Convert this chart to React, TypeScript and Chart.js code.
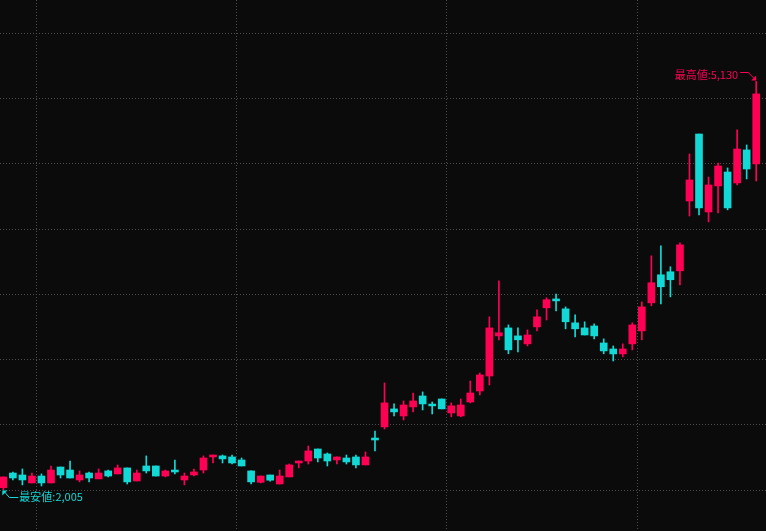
import React, { useEffect, useRef } from "react";
import { Chart, registerables } from "chart.js";

Chart.register(...registerables);

// Daily OHLC values (index = trading day)
const opens = [
  2020, 2132, 2117, 2056, 2109, 2056, 2178, 2155, 2079, 2132,
  2087, 2148, 2125, 2171, 2071, 2186, 2186, 2109, 2155, 2079,
  2117, 2155, 2255, 2263, 2255, 2232, 2148, 2061, 2117, 2048,
  2102, 2209, 2224, 2316, 2278, 2232, 2247, 2255, 2194, 2400,
  2485, 2623, 2569, 2638, 2722, 2660, 2699, 2592, 2569, 2676,
  2760, 2875, 3182, 3243, 3182, 3121, 3251, 3397, 3465, 3389,
  3282, 3243, 3258, 3128, 3082, 3044, 3121, 3220, 3435, 3650,
  3673, 3680, 4215, 4728, 4131, 4330, 4437, 4353, 4606, 4499,
];
const highs = [
  2102, 2140, 2163, 2132, 2125, 2186, 2178, 2224, 2148, 2140,
  2163, 2155, 2194, 2171, 2155, 2263, 2186, 2155, 2232, 2132,
  2163, 2263, 2270, 2270, 2270, 2247, 2148, 2109, 2117, 2155,
  2201, 2224, 2339, 2316, 2286, 2255, 2270, 2270, 2293, 2454,
  2822, 2661, 2684, 2745, 2753, 2676, 2699, 2669, 2699, 2837,
  2898, 3328, 3603, 3266, 3243, 3228, 3381, 3474, 3503, 3404,
  3343, 3290, 3274, 3159, 3105, 3121, 3282, 3442, 3795, 3871,
  3711, 3895, 4575, 4728, 4399, 4506, 4468, 4759, 4644, 5130,
];
const lows = [
  2005, 2079, 2041, 2056, 2033, 2056, 2094, 2094, 2064, 2064,
  2087, 2102, 2125, 2048, 2071, 2132, 2109, 2102, 2125, 2041,
  2109, 2132, 2209, 2209, 2201, 2186, 2048, 2056, 2069, 2048,
  2102, 2171, 2201, 2217, 2186, 2201, 2201, 2171, 2194, 2301,
  2469, 2569, 2538, 2600, 2615, 2584, 2623, 2562, 2562, 2669,
  2730, 2806, 3152, 3045, 3060, 3105, 3220, 3304, 3373, 3236,
  3174, 3189, 3159, 3045, 2990, 3021, 3075, 3152, 3412, 3427,
  3481, 3573, 4100, 4108, 4055, 4123, 4147, 4338, 4384, 4368,
];
const closes = [
  2102, 2094, 2079, 2109, 2056, 2155, 2117, 2094, 2117, 2094,
  2132, 2109, 2171, 2064, 2132, 2148, 2109, 2148, 2140, 2109,
  2140, 2247, 2270, 2240, 2209, 2186, 2064, 2109, 2077, 2109,
  2194, 2224, 2301, 2247, 2224, 2255, 2217, 2194, 2255, 2385,
  2669, 2600, 2653, 2684, 2661, 2646, 2623, 2646, 2653, 2745,
  2883, 3243, 3206, 3075, 3152, 3189, 3328, 3459, 3450, 3290,
  3236, 3189, 3182, 3067, 3044, 3082, 3266, 3404, 3589, 3558,
  3612, 3879, 4376, 4162, 4338, 4483, 4162, 4613, 4460, 5035,
];
// First trading day of each month (vertical separators)
const monthStarts = [4, 25, 47, 67];
// Horizontal price grid levels
const priceLevels = [2000, 2500, 3000, 3500, 4000, 4500, 5000, 5500];

const UP = "#ff0055";
const DOWN = "#12d9d5";
const BG = "#0b0b0b";
const GRID = "#4c4c4c";

export default function App() {
  const ref = useRef<HTMLCanvasElement | null>(null);

  useEffect(() => {
    document.body.style.margin = "0";
    document.body.style.background = BG;
    const colors = opens.map((o, i) => (closes[i] >= o ? UP : DOWN));

    const hiLo = {
      id: "hiLo",
      afterDatasetsDraw(chart: any) {
        const { ctx } = chart;
        const xs = chart.scales.x;
        const ys = chart.scales.y;
        const hiVal = Math.max(...highs);
        const hiIdx = highs.indexOf(hiVal);
        const loVal = Math.min(...lows);
        const loIdx = lows.indexOf(loVal);
        const hx = xs.getPixelForValue(hiIdx);
        const hy = ys.getPixelForValue(hiVal);
        const lx = xs.getPixelForValue(loIdx);
        const ly = ys.getPixelForValue(loVal);
        ctx.save();
        ctx.font = "11px 'Noto Sans CJK JP', sans-serif";
        ctx.lineWidth = 1;
        // highest
        ctx.strokeStyle = UP;
        ctx.fillStyle = UP;
        ctx.beginPath();
        ctx.moveTo(hx - 16, Math.round(hy - 9) + 0.5);
        ctx.lineTo(hx - 8, Math.round(hy - 9) + 0.5);
        ctx.lineTo(hx - 2, hy - 3);
        ctx.stroke();
        ctx.beginPath();
        ctx.moveTo(hx, hy - 1);
        ctx.lineTo(hx, hy - 6);
        ctx.lineTo(hx - 5, hy - 1);
        ctx.closePath();
        ctx.fill();
        ctx.textAlign = "right";
        ctx.textBaseline = "middle";
        ctx.fillText("最高値:" + hiVal.toLocaleString("en-US"), hx - 18, hy - 6.5);
        // lowest
        ctx.strokeStyle = DOWN;
        ctx.fillStyle = DOWN;
        ctx.beginPath();
        ctx.moveTo(lx + 1, ly + 2);
        ctx.lineTo(lx + 6, Math.round(ly + 7) + 0.5);
        ctx.lineTo(lx + 15, Math.round(ly + 7) + 0.5);
        ctx.stroke();
        ctx.beginPath();
        ctx.moveTo(lx - 1, ly + 1);
        ctx.lineTo(lx + 4, ly + 1);
        ctx.lineTo(lx - 1, ly + 6);
        ctx.closePath();
        ctx.fill();
        ctx.textAlign = "left";
        ctx.textBaseline = "middle";
        ctx.fillText("最安値:" + loVal.toLocaleString("en-US"), lx + 16, ly + 7.5);
        ctx.restore();
      },
    };

    const gridOpts = { color: GRID, lineWidth: 1, drawTicks: false, offset: false };
    const borderOpts = { display: false, dash: [1, 2] };

    const chart = new Chart(ref.current as HTMLCanvasElement, {
      type: "bar",
      data: {
        datasets: [
          {
            label: "body",
            data: opens.map((o, i) => ({ x: i, y: [o, closes[i]] })) as any,
            backgroundColor: colors,
            barThickness: 7,
            grouped: false,
            borderWidth: 0,
            minBarLength: 1,
          } as any,
          {
            label: "wick",
            data: lows.map((l, i) => ({ x: i, y: [l, highs[i]] })) as any,
            backgroundColor: colors,
            barThickness: 1,
            grouped: false,
            borderWidth: 0,
          } as any,
        ],
      },
      options: {
        animation: false,
        responsive: false,
        maintainAspectRatio: false,
        layout: { padding: 0 },
        plugins: { legend: { display: false }, tooltip: { enabled: false } },
        scales: {
          x: {
            type: "linear",
            offset: false,
            min: -0.35,
            max: 80.03,
            afterBuildTicks: (axis: any) => {
              axis.ticks = monthStarts.map((m) => ({ value: m - 0.5 }));
            },
            ticks: { display: false },
            grid: gridOpts,
            border: borderOpts,
          },
          y: {
            min: 1688,
            max: 5754,
            afterBuildTicks: (axis: any) => {
              axis.ticks = priceLevels.map((v) => ({ value: v }));
            },
            ticks: { display: false },
            grid: gridOpts,
            border: borderOpts,
          },
        },
      } as any,
      plugins: [hiLo],
    });
    return () => chart.destroy();
  }, []);

  return (
    <div style={{ width: 766, height: 531, background: BG }}>
      <canvas ref={ref} width={766} height={531} style={{ display: "block" }} />
    </div>
  );
}
